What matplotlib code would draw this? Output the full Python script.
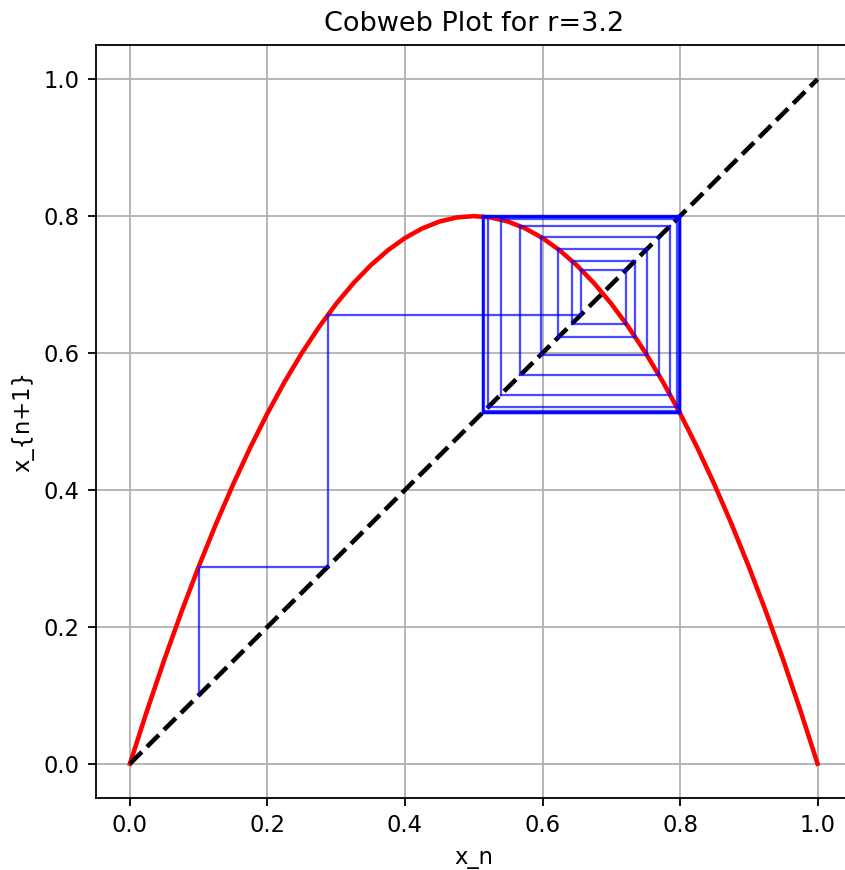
import numpy as np
import matplotlib.pyplot as plt

# Parámetro del mapa logístico
r = 3.2

# Curva roja f(x)
x_curve = [0.0, 0.025, 0.05, 0.075, 0.1, 0.125, 0.15, 0.175, 0.2, 0.225, 0.25,
           0.275, 0.3, 0.325, 0.35, 0.375, 0.4, 0.425, 0.45, 0.475, 0.5,
           0.525, 0.55, 0.575, 0.6, 0.625, 0.65, 0.675, 0.7, 0.725, 0.75,
           0.775, 0.8, 0.825, 0.85, 0.875, 0.9, 0.925, 0.95, 0.975, 1.0]
y_curve = [0.0, 0.078, 0.152, 0.222, 0.288, 0.35, 0.408, 0.462, 0.512, 0.558, 0.6,
           0.638, 0.672, 0.702, 0.728, 0.75, 0.768, 0.782, 0.792, 0.798, 0.8,
           0.798, 0.792, 0.782, 0.768, 0.75, 0.728, 0.702, 0.672, 0.638, 0.6,
           0.558, 0.512, 0.462, 0.408, 0.35, 0.288, 0.222, 0.152, 0.078, 0.0]

# Iteraciones de la telaraña (x0 = 0.1)
x_iter = [0.1, 0.288, 0.6562, 0.7219, 0.6424, 0.7351, 0.6231, 0.7515, 0.5975,
          0.7696, 0.5675, 0.7854, 0.5393, 0.7951, 0.5214, 0.7985, 0.5148,
          0.7993, 0.5133, 0.7994, 0.5131, 0.7995, 0.5130, 0.7995, 0.5130]

dpi = 163
fig = plt.figure(figsize=(845 / dpi, 870 / dpi), dpi=dpi)
ax = fig.add_axes([0.1131, 0.0828, 0.8951, 0.8655])

ax.plot(x_curve, y_curve, 'r', lw=2)
ax.plot([0, 1], [0, 1], 'k--', lw=2)

# Líneas de la telaraña
for x, y in zip(x_iter[:-1], x_iter[1:]):
    ax.plot([x, x], [x, y], 'b', lw=1, alpha=0.7)
    ax.plot([x, y], [y, y], 'b', lw=1, alpha=0.7)

ax.set_xlim(-0.05, 1.05)
ax.set_ylim(-0.05, 1.05)
ax.set_title('Cobweb Plot for r=3.2')
ax.set_xlabel('x_n')
ax.set_ylabel('x_{n+1}')
ax.grid(True)

fig.savefig('out.png', dpi=dpi)
